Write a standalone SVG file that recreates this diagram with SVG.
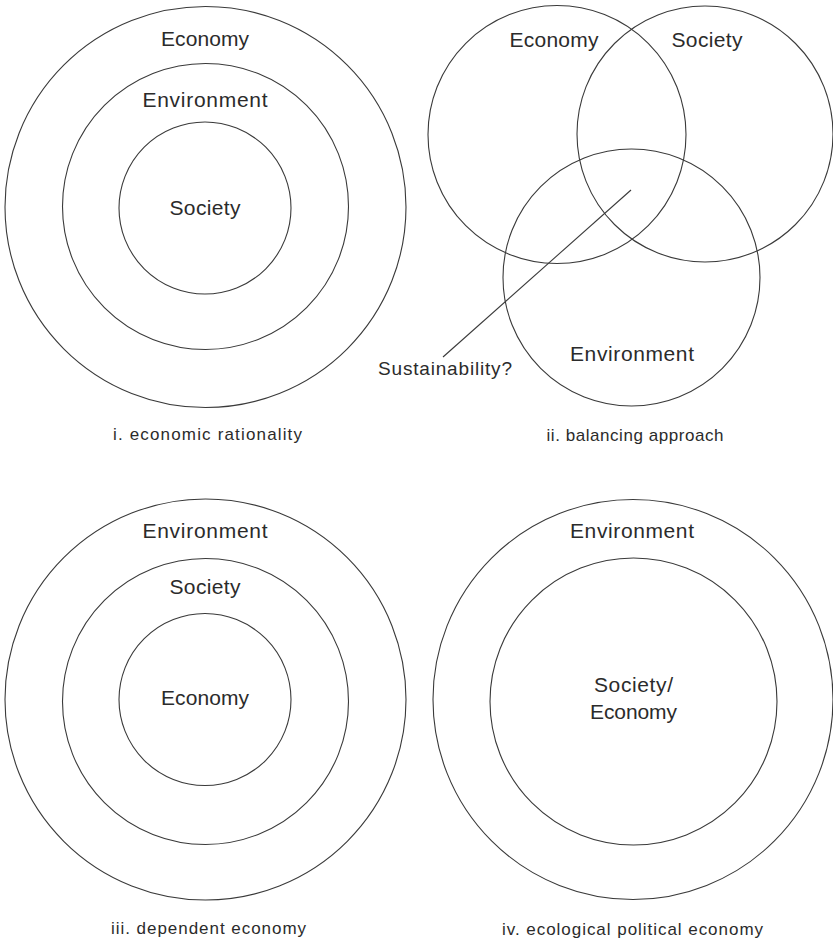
<svg xmlns="http://www.w3.org/2000/svg" width="833" height="941" viewBox="0 0 833 941">
  <style>
    .ring { fill: none; stroke: #3a3a3a; stroke-width: 1.1; }
    .lbl { font-family: "Liberation Sans", Arial, sans-serif; font-size: 21px; fill: #2b2b2b; text-anchor: middle; }
    .note { font-family: "Liberation Sans", Arial, sans-serif; font-size: 19px; fill: #2b2b2b; }
    .cap { font-family: "Liberation Sans", Arial, sans-serif; font-size: 17px; fill: #2b2b2b; text-anchor: middle; }
    .lead { stroke: #3a3a3a; stroke-width: 1.1; fill: none; }
  </style>
  <rect width="833" height="941" fill="#ffffff"/>

  <!-- i. economic rationality: nested rings -->
  <g id="panel-i">
    <g id="i-economy">
      <circle class="ring" cx="205.5" cy="207" r="200.5"/>
      <text class="lbl" x="205" y="46" textLength="88" lengthAdjust="spacing">Economy</text>
    </g>
    <g id="i-environment">
      <circle class="ring" cx="205.5" cy="206.5" r="143"/>
      <text class="lbl" x="205" y="107" textLength="125" lengthAdjust="spacing">Environment</text>
    </g>
    <g id="i-society">
      <circle class="ring" cx="205" cy="208" r="86"/>
      <text class="lbl" x="205" y="215" textLength="71" lengthAdjust="spacing">Society</text>
    </g>
    <text class="cap" x="207.5" y="440" textLength="189" lengthAdjust="spacing">i. economic rationality</text>
  </g>

  <!-- ii. balancing approach: three overlapping circles -->
  <g id="panel-ii">
    <g id="ii-economy">
      <circle class="ring" cx="557" cy="134.5" r="129"/>
      <text class="lbl" x="554" y="47" textLength="89" lengthAdjust="spacing">Economy</text>
    </g>
    <g id="ii-society">
      <circle class="ring" cx="705" cy="134" r="128"/>
      <text class="lbl" x="707" y="47" textLength="71" lengthAdjust="spacing">Society</text>
    </g>
    <g id="ii-environment">
      <circle class="ring" cx="631.5" cy="277.5" r="128.5"/>
      <text class="lbl" x="632" y="361" textLength="124" lengthAdjust="spacing">Environment</text>
    </g>
    <g id="ii-sustainability">
      <text class="note" x="378" y="375" textLength="134" lengthAdjust="spacing">Sustainability?</text>
    </g>
    <text class="cap" x="635" y="441" textLength="177" lengthAdjust="spacing">ii. balancing approach</text>
  </g>

  <!-- leader from the label to the shared overlap -->
  <g id="connectors">
    <line class="lead" x1="443" y1="357" x2="631" y2="190"/>
  </g>

  <!-- iii. dependent economy: nested rings -->
  <g id="panel-iii">
    <g id="iii-environment">
      <circle class="ring" cx="205.5" cy="699.5" r="200.5"/>
      <text class="lbl" x="205" y="538" textLength="125" lengthAdjust="spacing">Environment</text>
    </g>
    <g id="iii-society">
      <circle class="ring" cx="205.5" cy="701.5" r="143"/>
      <text class="lbl" x="205" y="594" textLength="71" lengthAdjust="spacing">Society</text>
    </g>
    <g id="iii-economy">
      <circle class="ring" cx="205" cy="699.5" r="86"/>
      <text class="lbl" x="205" y="705" textLength="88" lengthAdjust="spacing">Economy</text>
    </g>
    <text class="cap" x="208.5" y="934" textLength="195" lengthAdjust="spacing">iii. dependent economy</text>
  </g>

  <!-- iv. ecological political economy: two rings -->
  <g id="panel-iv">
    <g id="iv-environment">
      <circle class="ring" cx="633" cy="699.5" r="200"/>
      <text class="lbl" x="632" y="538" textLength="124" lengthAdjust="spacing">Environment</text>
    </g>
    <g id="iv-society-economy">
      <circle class="ring" cx="633.5" cy="701.5" r="143.5"/>
      <text class="lbl" x="633.5" y="692" textLength="79" lengthAdjust="spacing">Society/</text>
      <text class="lbl" x="633.5" y="719" textLength="87" lengthAdjust="spacing">Economy</text>
    </g>
    <text class="cap" x="632.5" y="935" textLength="261" lengthAdjust="spacing">iv. ecological political economy</text>
  </g>
</svg>
